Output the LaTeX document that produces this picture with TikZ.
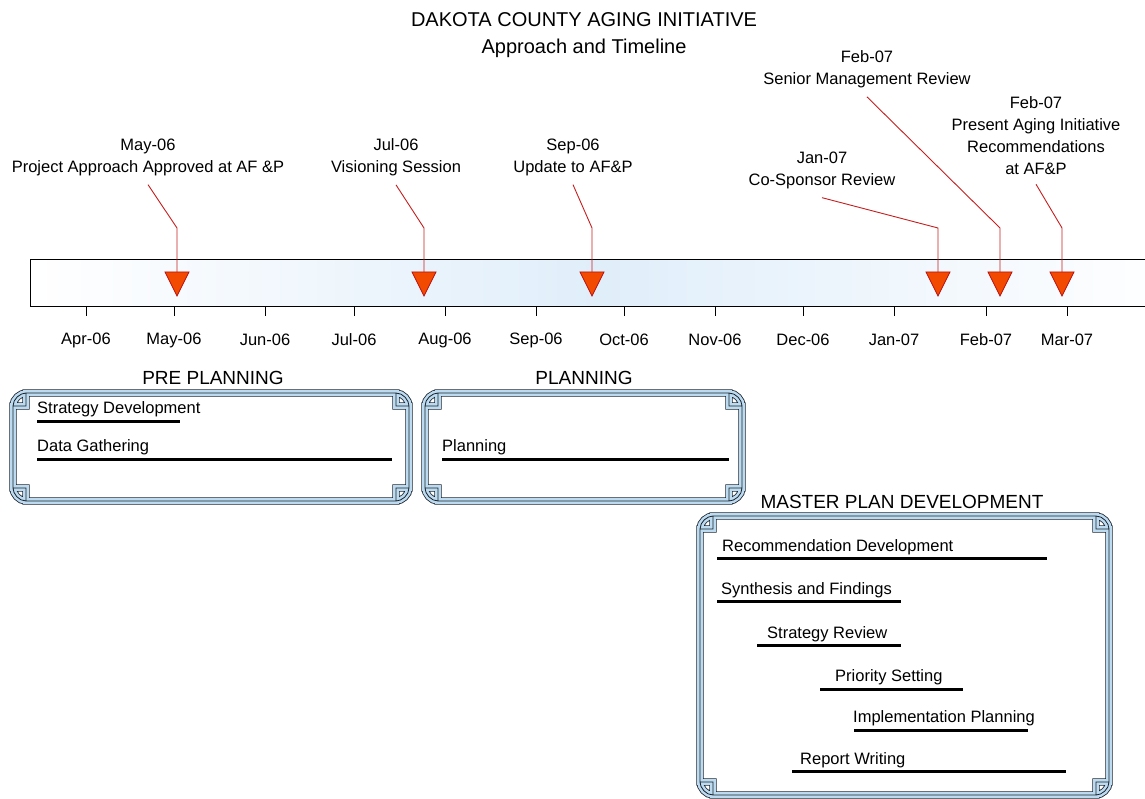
\documentclass[tikz,border=0pt]{standalone}
\usepackage{fontspec}
\setmainfont{Liberation Sans}
\usetikzlibrary{arrows.meta}
\definecolor{markerfill}{HTML}{F24A00}
\definecolor{markerline}{HTML}{B81010}
\definecolor{leaderred}{HTML}{C41E1E}
\definecolor{barblue}{HTML}{E0EEFA}
\definecolor{frameline}{HTML}{1A222C}
\definecolor{frameblue}{HTML}{BCDAF0}
\tikzset{
  notetext/.style={
    font=\fontsize{16.5}{22}\selectfont,
    inner sep=0pt,
    align=center
  },
  headtext/.style={
    font=\fontsize{20}{27}\selectfont,
    inner sep=0pt,
    align=center
  },
  phasetext/.style={
    font=\fontsize{19}{22}\selectfont,
    inner sep=0pt
  },
  tasktext/.style={
    font=\fontsize{16.5}{20}\selectfont,
    inner sep=0pt,
    anchor=west
  },
  leader/.style={
    draw=leaderred,
    line width=0.9pt
  },
  marker/.style={
    fill=markerfill,
    draw=markerline,
    line width=0.7pt,
    line join=miter
  },
  taskbar/.style={
    line width=3pt,
    draw=black
  },
  timebar/.style={
    draw=black,
    line width=1pt,
    left color=white,
    right color=white,
    middle color=barblue
  }
}
% notched double frame round one phase: left, top, right, bottom
\newcommand\phaseframe[4]{%
  \foreach \w/\c in {7.4pt/frameline,5.8pt/frameblue,0.8pt/frameline}{
    \draw[line width=\w,draw=\c,line join=miter]
      (#1+13,#2) -- (#3-13,#2) -- (#3-13,#2+13) -- (#3,#2+13)
      -- (#3,#4-13) -- (#3-13,#4-13) -- (#3-13,#4) -- (#1+13,#4)
      -- (#1+13,#4-13) -- (#1,#4-13) -- (#1,#2+13) -- (#1+13,#2+13) -- cycle
      (#1,#2+13) .. controls (#1,#2+5.8) and (#1+7.2,#2) .. (#1+13,#2)
      (#3-13,#2) .. controls (#3-5.8,#2) and (#3,#2+7.2) .. (#3,#2+13)
      (#3,#4-13) .. controls (#3,#4-5.8) and (#3-7.2,#4) .. (#3-13,#4)
      (#1+13,#4) .. controls (#1+5.8,#4) and (#1,#4-7.2) .. (#1,#4-13);
  }
}

\begin{document}
\begin{tikzpicture}[x=1pt,y=-1pt]
  \useasboundingbox (0,0) rectangle (1145,799);

  % title
  \node[headtext] (title) at (584,35) {DAKOTA COUNTY AGING INITIATIVE\\Approach and Timeline};

  % time bar and months
  \draw[timebar] (30,260) rectangle (1175,307);
  \foreach \x/\m in {86/Apr-06,174/May-06,265/Jun-06,354/Jul-06,445/Aug-06,536/Sep-06,
                     624/Oct-06,715/Nov-06,803/Dec-06,894/Jan-07,986/Feb-07,1067/Mar-07}{
    \draw[line width=0.9pt] (\x,307) -- (\x,316);
    \node[notetext] at (\x,340) {\m};
  }

  % milestones
  \node[notetext] (l1) at (148,157) {May-06\\Project Approach Approved at AF \&P};
  \node[notetext] (l2) at (396,157) {Jul-06\\Visioning Session};
  \node[notetext] (l3) at (573,157) {Sep-06\\Update to AF\&P};
  \node[notetext] (l4) at (822,170) {Jan-07\\Co-Sponsor Review};
  \node[notetext] (l5) at (867,69) {Feb-07\\Senior Management Review};
  \node[notetext] (l6) at (1036,136) {Feb-07\\Present Aging Initiative\\Recommendations\\at AF\&P};

  \foreach \i/\x in {1/177,2/424,3/592,4/938,5/1000,6/1062}{
    \coordinate (b\i) at (\x,228);
    \coordinate (m\i) at (\x,272);
    \draw[leader] ([yshift=-9pt]l\i.south) -- (b\i) -- (m\i);
    \draw[marker] (m\i) ++(-12,0) -- ++(24,0) -- ++(-12,24) -- cycle;
  }

  % phases
  \node[phasetext] (pre) at (213,378) {PRE PLANNING};
  \node[phasetext] (plan) at (584,378) {PLANNING};
  \node[phasetext] (master) at (902,502) {MASTER PLAN DEVELOPMENT};
  \phaseframe{13}{393}{409}{501}
  \phaseframe{425}{393}{742}{501}
  \phaseframe{700}{516}{1109}{795}

  % tasks
  \node[tasktext] (t1) at (37,409) {Strategy Development};
  \draw[taskbar] (37,421) -- (180,421);
  \node[tasktext] (t2) at (37,447) {Data Gathering};
  \draw[taskbar] (37,459) -- (392,459);
  \node[tasktext] (t3) at (442,447) {Planning};
  \draw[taskbar] (442,459) -- (729,459);
  \node[tasktext] (t4) at (722,547) {Recommendation Development};
  \draw[taskbar] (717,558) -- (1047,558);
  \node[tasktext] (t5) at (721,590) {Synthesis and Findings};
  \draw[taskbar] (717,601) -- (901,601);
  \node[tasktext] (t6) at (767,634) {Strategy Review};
  \draw[taskbar] (757,645) -- (901,645);
  \node[tasktext] (t7) at (835,677) {Priority Setting};
  \draw[taskbar] (820,689) -- (963,689);
  \node[tasktext] (t8) at (853,718) {Implementation Planning};
  \draw[taskbar] (854,730) -- (1028,730);
  \node[tasktext] (t9) at (800,760) {Report Writing};
  \draw[taskbar] (792,771) -- (1066,771);
\end{tikzpicture}
\end{document}
